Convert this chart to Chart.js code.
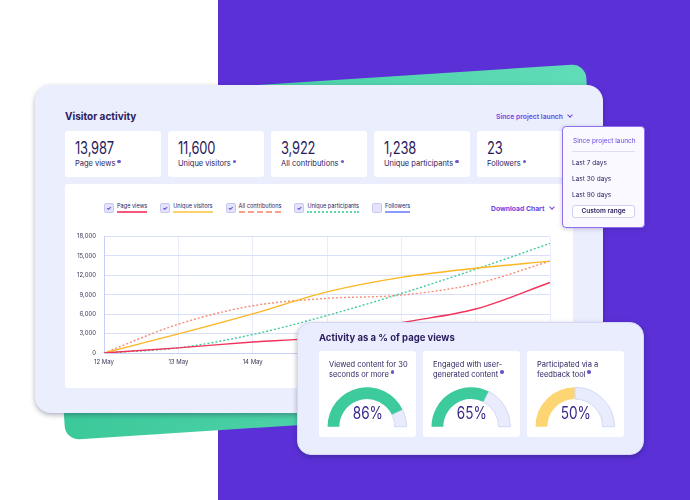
<!DOCTYPE html>
<html>
<head>
<meta charset="utf-8">
<script src="https://cdn.jsdelivr.net/npm/chart.js@4.4.1/dist/chart.umd.min.js"></script>
<style>
  body { margin: 0; background: #fff; font-family: Inter, "Noto Sans", sans-serif; color: #2b1d5e; }
  #stage { position: relative; width: 690px; height: 500px; overflow: hidden; background: #fff; }
  .abs { position: absolute; }
  .purple-bg { left: 218px; top: 0; width: 472px; height: 500px; background: #5b30d7; }
  .green-bg { left: 54px; top: 81px; width: 543px; height: 342px; border-radius: 14px;
    background: linear-gradient(90deg, #3cc99a, #60dcb8); transform: rotate(-3.7deg); }
  .card-main { left: 35px; top: 85px; width: 568px; height: 328px; border-radius: 16px; background: #ebeefd;
    box-shadow: 0 2px 5px rgba(30, 30, 70, .35); }
  .title { font-size: 10px; font-weight: 700; }
  .link { font-size: 6.8px; font-weight: 600; color: #6d44e2; }
  .chev { display: inline-block; width: 3px; height: 3px; border-right: 1px solid #6d44e2; border-bottom: 1px solid #6d44e2;
    transform: rotate(45deg); margin-left: 5px; position: relative; top: -2px; }
  .stat { top: 131px; width: 96px; height: 46px; background: #fff; border-radius: 3px; }
  .stat .num { position: absolute; left: 10px; top: 9px; font-size: 17px; line-height: 17px; font-weight: 400;
    transform: scaleX(.76); transform-origin: left; white-space: nowrap; letter-spacing: -0.2px; }
  .stat .lbl { position: absolute; left: 10px; top: 28px; font-size: 7.5px; white-space: nowrap; }
  .info { display: inline-block; width: 3.5px; height: 3.5px; border-radius: 50%; background: #6a58c8;
    position: relative; top: -3px; margin-left: 2px; }
  .panel { left: 65px; top: 184px; width: 508px; height: 204px; background: #fff; border-radius: 3px; }
  #legend { left: 104px; top: 203px; display: flex; gap: 13px; }
  .item { display: flex; align-items: flex-start; gap: 3px; }
  .box { width: 8px; height: 8px; border: 1px solid #c6c8f1; background: #e3e4fb; border-radius: 2px;
    font-size: 6px; line-height: 8px; text-align: center; color: #5b30d7; font-weight: 700; }
  .ltxt { font-size: 5.6px; line-height: 7px; padding-bottom: 1px; white-space: nowrap; }
  .dropdown { left: 562px; top: 126px; width: 81px; height: 100px; background: #f9f9ff; border: 1px solid #8f6ff0;
    border-radius: 4px; box-shadow: 0 1px 4px rgba(40, 30, 100, .25); }
  .dropdown div { position: absolute; font-size: 6.5px; white-space: nowrap; }
  .act { left: 297px; top: 322px; width: 345px; height: 131px; border-radius: 14px; background: #eaedfd;
    border: 1px solid #d3d8f7; box-shadow: 0 2px 5px rgba(30, 30, 70, .35); }
  .sub { top: 351px; width: 97px; height: 86px; background: #fff; border-radius: 3px; }
  .sub .txt { position: absolute; left: 10px; top: 9px; width: 84px; font-size: 7.5px; line-height: 9.5px; }
  .sub canvas { position: absolute; left: 8px; top: 35px; }
  .sub .pct { position: absolute; left: 0; width: 97px; top: 54px; text-align: center; font-size: 17px; line-height: 17px;
    color: #3b2a8c; }
  .sub .pct span { display: inline-block; transform: scaleX(.8); }
</style>
</head>
<body>
<div id="stage">
  <div class="abs purple-bg"></div>
  <div class="abs green-bg"></div>
  <div class="abs card-main"></div>
  <div class="abs title" style="left:65px; top:110px;">Visitor activity</div>
  <div class="abs link" style="left:496px; top:112px;">Since project launch<span class="chev"></span></div>
  <div id="stats"></div>
  <div class="abs panel"></div>
  <div class="abs" id="legend"></div>
  <div class="abs link" style="left:491px; top:204px; font-weight:700;">Download Chart<span class="chev"></span></div>
  <canvas class="abs" id="lineChart" width="508" height="150" style="left:65px; top:225px;"></canvas>

  <div class="abs dropdown">
    <div style="left:10px; top:10px; color:#6d44e2;">Since project launch</div>
    <div style="left:9px; top:24px; width:63px; height:1px; background:#dcdff6;"></div>
    <div style="left:9px; top:32px;">Last 7 days</div>
    <div style="left:9px; top:48px;">Last 30 days</div>
    <div style="left:9px; top:64px;">Last 90 days</div>
    <div style="left:9px; top:78px; width:61px; height:11px; border:1px solid #cfd2f5; border-radius:3px; background:#fff;
      text-align:center; line-height:11px; font-weight:600;">Custom range</div>
  </div>

  <div class="abs act"></div>
  <div class="abs title" style="left:319px; top:332px; font-size:9.5px;">Activity as a % of page views</div>
  <div id="gauges"></div>
</div>

<script>
// visitor activity chart
var days = ['12 May', '13 May', '14 May', '15 May', '16 May', '17 May', '18 May'];
var yTicks = [0, 3000, 6000, 9000, 12000, 15000, 18000];
var seriesNames = ['Page views', 'Unique visitors', 'All contributions', 'Unique participants', 'Followers'];
var seriesColors = ['#f2325a', '#fbb622', '#f98d76', '#3fcb9b', '#8b9cf8'];
var legendColors = ['#f5587a', '#fcd36a', '#f9a08a', '#5fd6a8', '#8b9cf8'];
var seriesShown = [true, true, true, true, false];
var pageViews = [0, 800, 1700, 2500, 4700, 6800, 10900];
var uniqueVisitors = [0, 2950, 6050, 9450, 11700, 13100, 14200];
var allContributions = [0, 4450, 7300, 8450, 8950, 10700, 14200];
var uniqueParticipants = [0, 800, 2850, 5800, 9200, 12950, 16950];
var followers = [0, 3, 6, 10, 14, 19, 23];

// stat cards
var statValues = ['13,987', '11,600', '3,922', '1,238', '23'];
var statLabels = ['Page views', 'Unique visitors', 'All contributions', 'Unique participants', 'Followers'];

// gauges
var gaugeLabels = ['Viewed content for 30 seconds or more', 'Engaged with user-generated content', 'Participated via a feedback tool'];
var gaugeValues = [86, 65, 50];
var gaugeColors = ['#3dca9c', '#3dca9c', '#fdd673'];

Chart.defaults.font.family = 'Inter';

var statsHtml = '';
statValues.forEach(function (v, i) {
  statsHtml += '<div class="abs stat" style="left:' + (65 + 103 * i) + 'px"><div class="num">' + v +
    '</div><div class="lbl">' + statLabels[i] + '<span class="info"></span></div></div>';
});
document.getElementById('stats').innerHTML = statsHtml;

var underline = ['solid', 'solid', 'dashed', 'dotted', 'solid'];
var legendHtml = '';
seriesNames.forEach(function (name, i) {
  legendHtml += '<div class="item"><div class="box">' + (seriesShown[i] ? '✓' : '') + '</div>' +
    '<div class="ltxt" style="border-bottom:2px ' + underline[i] + ' ' + legendColors[i] + '">' + name + '</div></div>';
});
document.getElementById('legend').innerHTML = legendHtml;

var seriesData = [pageViews, uniqueVisitors, allContributions, uniqueParticipants, followers];
var datasets = seriesNames.map(function (name, i) {
  return {
    label: name,
    data: seriesData[i],
    borderColor: seriesColors[i],
    borderWidth: 1.4,
    borderDash: (i == 2 || i == 3) ? [2, 2] : [],
    pointRadius: 0,
    cubicInterpolationMode: 'monotone',
    fill: false,
    hidden: !seriesShown[i]
  };
});

new Chart(document.getElementById('lineChart'), {
  type: 'line',
  data: { labels: days, datasets: datasets },
  options: {
    responsive: false,
    animation: false,
    layout: { padding: { top: 8, right: 23, left: 0, bottom: 0 } },
    plugins: { legend: { display: false }, tooltip: { enabled: false } },
    scales: {
      x: {
        grid: { color: '#e9ecfc', drawTicks: false },
        border: { color: '#c9cff4' },
        ticks: { font: { size: 6 }, color: '#3a3556', padding: 6, maxRotation: 0, autoSkip: false },
        afterFit: function (s) { s.height = 22; }
      },
      y: {
        min: 0, max: 18000,
        grid: { color: '#dbe0fa', drawTicks: false },
        border: { color: '#c9cff4' },
        afterBuildTicks: function (s) { s.ticks = yTicks.map(function (v) { return { value: v }; }); },
        ticks: {
          font: { size: 6 }, color: '#3a3556', padding: 8,
          callback: function (v) { return v.toLocaleString('en-US'); }
        },
        afterFit: function (s) { s.width = 39; }
      }
    }
  }
});

var gaugesHtml = '';
gaugeLabels.forEach(function (t, i) {
  gaugesHtml += '<div class="abs sub" style="left:' + (319 + 104 * i) + 'px"><div class="txt">' + t +
    '<span class="info"></span></div><canvas id="g' + i + '" width="80" height="42"></canvas>' +
    '<div class="pct"><span>' + gaugeValues[i] + '%</span></div></div>';
});
document.getElementById('gauges').innerHTML = gaugesHtml;

gaugeValues.forEach(function (v, i) {
  new Chart(document.getElementById('g' + i), {
    type: 'doughnut',
    data: {
      datasets: [{
        data: [v, 100 - v],
        backgroundColor: [gaugeColors[i], '#e9ecfd'],
        borderColor: [gaugeColors[i], '#d3d9f6'],
        borderWidth: [0, 1]
      }]
    },
    options: {
      responsive: false,
      animation: false,
      rotation: -90,
      circumference: 180,
      cutout: '70%',
      plugins: { legend: { display: false }, tooltip: { enabled: false } }
    }
  });
});
</script>
</body>
</html>
